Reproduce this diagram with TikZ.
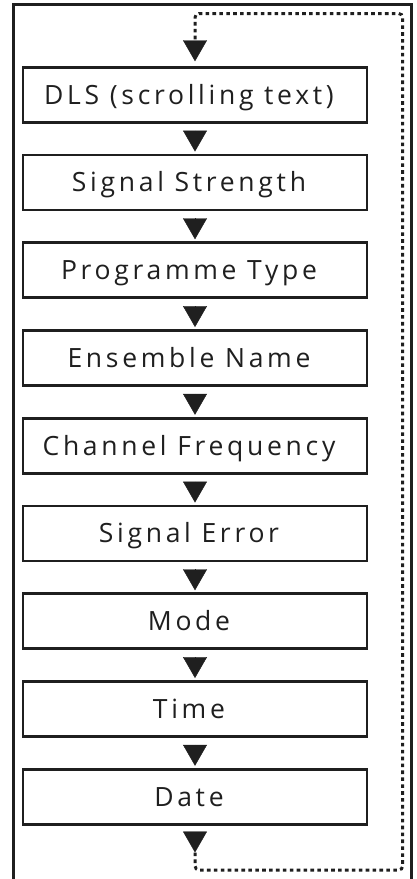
\documentclass[tikz,border=0pt]{standalone}
\usepackage{fontspec}
\setmainfont[LetterSpace=14]{Open Sans}
\usetikzlibrary{arrows.meta}
\tikzset{
  frame/.style={line width=3pt, line cap=butt, line join=miter, draw=black!88},
  stepbox/.style={draw=black!88, line width=2.8pt, minimum width=344pt, minimum height=55pt,
    inner sep=0pt, font=\fontsize{26.5}{30}\selectfont, text height=19pt, text depth=0pt, text=black!88,
    execute at end node={\hspace*{12pt}}},
  flow/.style={line width=0.4pt, draw=black!88, -{Triangle[width=24pt,length=21pt,fill=black!88]}},
  loopline/.style={line width=3pt, draw=black!88, dash pattern=on 3.6pt off 3.3pt, rounded corners=4pt}
}
\begin{document}
\begin{tikzpicture}[x=1pt,y=-1pt]
\useasboundingbox (0,0) rectangle (417,879);
\draw[frame] (13.8,885) -- (13.8,4.2) -- (411.8,4.2) -- (411.8,885);
\node[stepbox] (n1) at (195,94.7) {DLS (scrolling text)};
\node[stepbox] (n2) at (195,182.45) {Signal Strength};
\node[stepbox] (n3) at (195,270.2) {Programme Type};
\node[stepbox] (n4) at (195,357.95) {Ensemble Name};
\node[stepbox] (n5) at (195,445.7) {Channel Frequency};
\node[stepbox] (n6) at (195,533.45) {Signal Error};
\node[stepbox] (n7) at (195,621.2) {Mode};
\node[stepbox] (n8) at (195,708.95) {Time};
\node[stepbox] (n9) at (195,796.7) {Date};
\foreach \a/\b in {n1/n2,n2/n3,n3/n4,n4/n5,n5/n6,n6/n7,n7/n8,n8/n9}{
  \draw[flow, shorten <=7pt, shorten >=2pt] (\a.south) -- (\b.north);
}
\coordinate (lb) at (195,852.5);
\draw[flow, shorten <=8pt] (n9.south) -- (lb);
\draw[loopline, -{Triangle[width=24pt,length=21pt,fill=black!88,line width=0.4pt]}, shorten >=4.5pt]
  (lb) -- (195,870) -- (402.7,870) -- (402.7,13.5) -- (195,13.5) -- (n1.north);
\end{tikzpicture}
\end{document}
